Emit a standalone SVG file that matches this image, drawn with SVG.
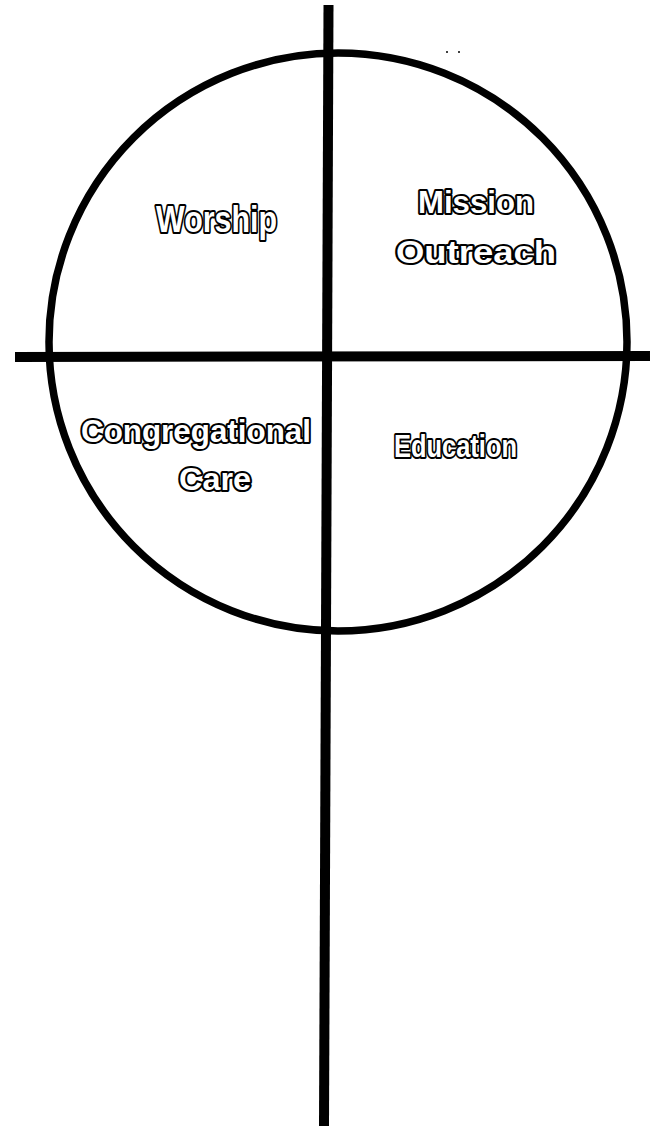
<svg xmlns="http://www.w3.org/2000/svg" width="650" height="1126" viewBox="0 0 650 1126">
<style>
.lbl{font-family:"Liberation Sans",Arial,sans-serif;font-weight:bold;font-size:31px;fill:#fff;stroke:#000;stroke-width:4;paint-order:stroke;stroke-linejoin:round}
.ln{stroke:#000;stroke-width:10;fill:none}
</style>
<rect width="650" height="1126" fill="#fff"/>
<g id="circle"><circle cx="338" cy="342" r="289" fill="none" stroke="#000" stroke-width="7.5"/></g>
<g id="connectors">
<line class="ln" x1="328.5" y1="5" x2="324" y2="1126"/>
<line class="ln" x1="15" y1="357" x2="650" y2="356"/>
</g>
<g id="worship"><text class="lbl" x="156" y="232" textLength="121" lengthAdjust="spacingAndGlyphs" style="font-size:37px">Worship</text></g>
<g id="mission"><text class="lbl" x="418" y="213" textLength="116" lengthAdjust="spacingAndGlyphs">Mission</text><text class="lbl" x="396" y="263" textLength="160" lengthAdjust="spacingAndGlyphs">Outreach</text></g>
<g id="care"><text class="lbl" x="81" y="442" textLength="230" lengthAdjust="spacingAndGlyphs">Congregational</text><text class="lbl" x="179" y="490" textLength="72" lengthAdjust="spacingAndGlyphs">Care</text></g>
<g id="education"><text class="lbl" x="394" y="457" textLength="123" lengthAdjust="spacingAndGlyphs">Education</text></g>
<g id="specks"><circle cx="447" cy="52" r="1" fill="#000"/><circle cx="459" cy="52" r="1" fill="#000"/></g>
</svg>
